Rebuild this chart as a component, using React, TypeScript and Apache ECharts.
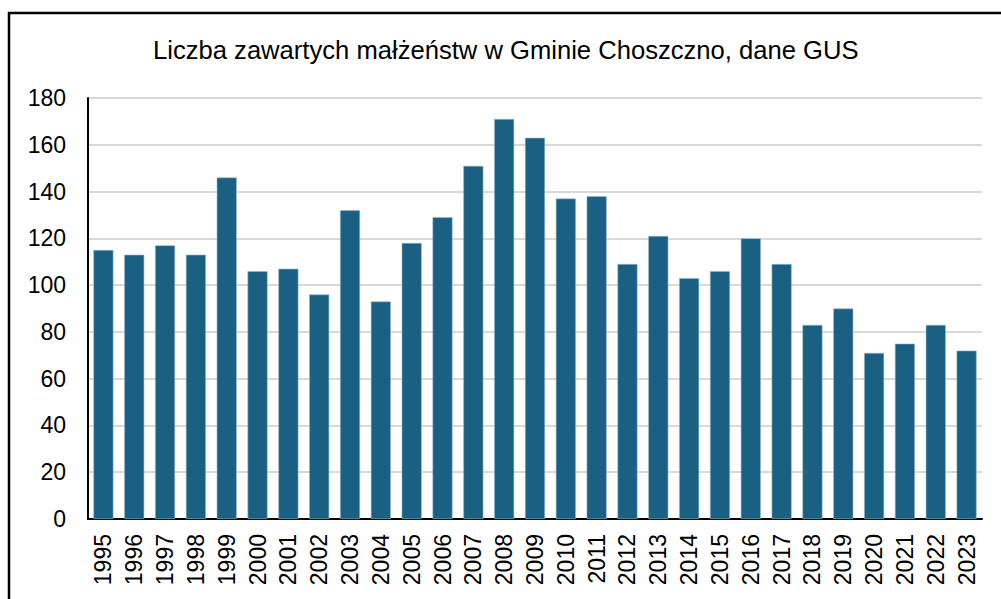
import React, { useEffect, useRef } from "react";
import * as echarts from "echarts";

const years = ["1995","1996","1997","1998","1999","2000","2001","2002","2003","2004","2005","2006","2007","2008","2009","2010","2011","2012","2013","2014","2015","2016","2017","2018","2019","2020","2021","2022","2023"];
const marriages = [115,113,117,113,146,106,107,96,132,93,118,129,151,171,163,137,138,109,121,103,106,120,109,83,90,71,75,83,72];
const titleText = "Liczba zawartych małżeństw w Gminie Choszczno, dane GUS";

const FONT = "Liberation Sans";

export default function App() {
  const ref = useRef<HTMLDivElement>(null);
  useEffect(() => {
    if (!ref.current) return;
    const chart = echarts.init(ref.current, null, { renderer: "svg" });
    chart.setOption({
      animation: false,
      backgroundColor: "#ffffff",
      title: {
        text: titleText,
        left: 148,
        top: 32,
        textStyle: { fontFamily: FONT, fontSize: 25.6, fontWeight: "normal", color: "#000" },
      },
      graphic: [
        {
          type: "rect",
          shape: { x: 9, y: 13, width: 1100, height: 700 },
          style: { fill: "none", stroke: "#000", lineWidth: 2.5 },
          silent: true,
        },
      ],
      grid: { left: 88, right: 19, top: 98, bottom: 80, containLabel: false },
      xAxis: {
        type: "category",
        data: years,
        axisLine: { lineStyle: { color: "#000", width: 2 } },
        axisTick: { show: false },
        axisLabel: { rotate: 90, fontFamily: FONT, fontSize: 23, color: "#000", margin: 15, interval: 0 },
      },
      yAxis: {
        type: "value",
        min: 0,
        max: 180,
        interval: 20,
        axisLine: { show: true, lineStyle: { color: "#000", width: 2 } },
        axisTick: { show: false },
        axisLabel: { fontFamily: FONT, fontSize: 23, color: "#000", margin: 22 },
        splitLine: { lineStyle: { color: "#d9d9d9", width: 2 } },
      },
      series: [
        {
          type: "bar",
          data: marriages,
          barCategoryGap: "35%",
          itemStyle: { color: "#1a6083", borderColor: "#9ab9c9", borderWidth: 0.6 },
        },
      ],
    });
    return () => chart.dispose();
  }, []);
  return <div ref={ref} style={{ position: "fixed", left: 0, top: 0, width: 1001, height: 599 }} />;
}
